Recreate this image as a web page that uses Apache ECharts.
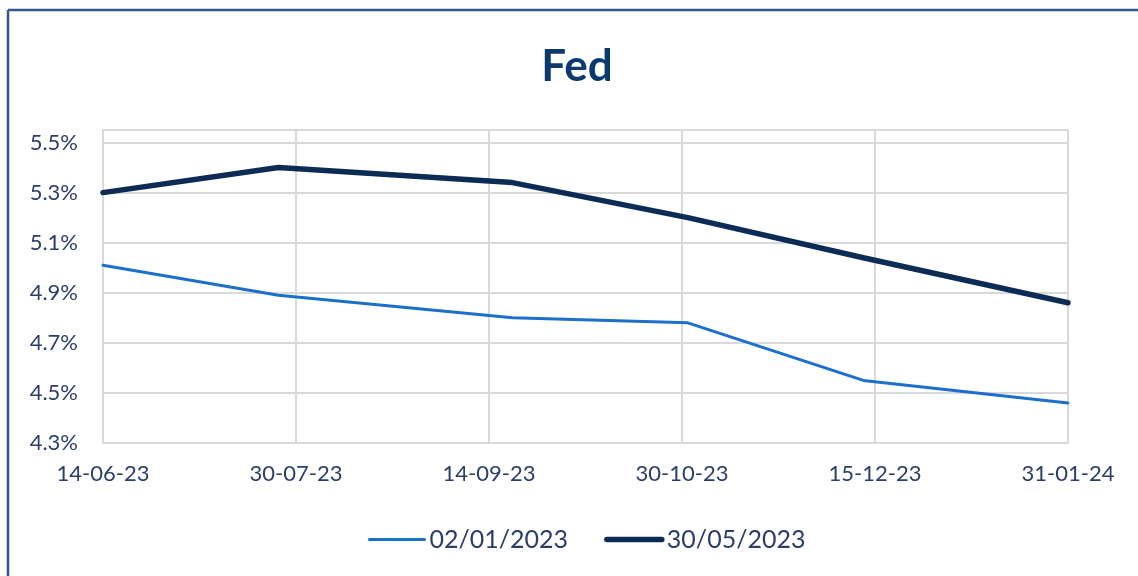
<!DOCTYPE html>
<html>
<head>
<meta charset="utf-8">
<script src="https://cdn.jsdelivr.net/npm/echarts@6/dist/echarts.min.js"></script>
<style>
  html,body{margin:0;padding:0;background:#fff;}
  #fed-chart{width:1138px;height:576px;}
</style>
</head>
<body>
<div id="fed-chart"></div>
<script>
  // x tick labels (dd-mm-yy), evenly spaced between first and last
  var tickLabels = ['14-06-23', '30-07-23', '14-09-23', '30-10-23', '15-12-23', '31-01-24'];
  // meeting dates for the two curves
  var meetingDates = ['14-06-23', '26-07-23', '20-09-23', '01-11-23', '13-12-23', '31-01-24'];
  var seriesNames = ['02/01/2023', '30/05/2023'];
  var jan02Values = [5.01, 4.89, 4.80, 4.78, 4.55, 4.46];
  var may30Values = [5.30, 5.40, 5.34, 5.20, 5.04, 4.86];
  var yTickValues = [4.3, 4.5, 4.7, 4.9, 5.1, 5.3, 5.5];

  function toDay(s) {
    var p = s.split('-');
    return Date.UTC(2000 + (+p[2]), (+p[1]) - 1, +p[0]) / 86400000;
  }
  var day0 = toDay(tickLabels[0]);
  var dayEnd = toDay(tickLabels[tickLabels.length - 1]) - day0;
  var xStep = dayEnd / (tickLabels.length - 1);

  function pairs(vals) {
    return meetingDates.map(function (d, i) { return [toDay(d) - day0, vals[i]]; });
  }

  var fedChart = echarts.init(document.getElementById('fed-chart'));
  var labelColor = '#2b3d6b';
  var gridColor = '#d9d9d9';
  var lightBlue = '#1d6fcc';
  var darkBlue = '#0c2c55';

  var fedOption = {
    animation: false,
    title: {
      text: 'Fed',
      left: 572,
      top: 40,
      textAlign: 'center',
      textStyle: {fontFamily: 'Lato', fontWeight: 'bold', fontSize: 44, color: '#0d3a6e'}
    },
    graphic: [
      {type: 'line', shape: {x1: 8, y1: 10, x2: 1138, y2: 10}, style: {stroke: '#34548f', lineWidth: 2.5}},
      {type: 'line', shape: {x1: 8, y1: 10, x2: 8, y2: 576}, style: {stroke: '#34548f', lineWidth: 2.5}}
    ],
    legend: {
      left: 363,
      top: 522,
      itemWidth: 55,
      itemGap: 36,
      itemStyle: {opacity: 0},
      data: [
        {name: seriesNames[0], lineStyle: {width: 3, color: lightBlue, cap: 'round'}},
        {name: seriesNames[1], lineStyle: {width: 5.5, color: darkBlue, cap: 'round'}}
      ],
      textStyle: {fontFamily: 'Lato', fontSize: 25, color: labelColor}
    },
    grid: {left: 103, right: 70, top: 130, bottom: 133, containLabel: false},
    xAxis: {
      type: 'value',
      min: 0,
      max: dayEnd,
      interval: xStep,
      axisLine: {show: true, lineStyle: {color: gridColor, width: 2}},
      axisTick: {show: false},
      splitLine: {show: true, lineStyle: {color: gridColor, width: 2}},
      axisLabel: {
        margin: 20,
        fontFamily: 'Lato', fontSize: 22, color: labelColor,
        formatter: function (v) { return tickLabels[Math.round(v / xStep)] || ''; }
      }
    },
    yAxis: {
      type: 'value',
      min: 4.3,
      max: 5.55,
      interval: 0.2,
      axisLine: {show: true, lineStyle: {color: gridColor, width: 2}},
      axisTick: {show: false},
      splitLine: {show: true, lineStyle: {color: gridColor, width: 2}},
      axisLabel: {
        margin: 25,
        fontFamily: 'Lato', fontSize: 22, color: labelColor,
        showMaxLabel: false,
        formatter: function (v) {
          for (var i = 0; i < yTickValues.length; i++) {
            if (Math.abs(v - yTickValues[i]) < 1e-6) return v.toFixed(1) + '%';
          }
          return '';
        }
      }
    },
    series: [
      {
        name: seriesNames[0],
        type: 'line',
        symbol: 'none',
        lineStyle: {color: lightBlue, width: 3, cap: 'round'},
        itemStyle: {color: lightBlue},
        data: pairs(jan02Values)
      },
      {
        name: seriesNames[1],
        type: 'line',
        symbol: 'none',
        lineStyle: {color: darkBlue, width: 5.5, cap: 'round'},
        itemStyle: {color: darkBlue},
        data: pairs(may30Values)
      }
    ]
  };

  fedChart.setOption(fedOption);
</script>
</body>
</html>
